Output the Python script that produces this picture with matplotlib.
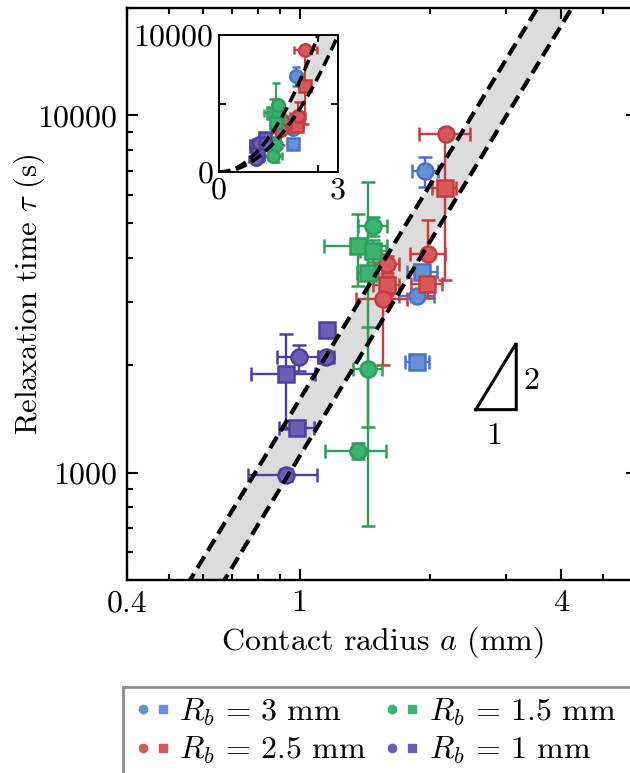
import numpy as np
import matplotlib
matplotlib.use("Agg")
import matplotlib.pyplot as plt
from matplotlib.ticker import FixedLocator, NullFormatter, FixedFormatter
from matplotlib.lines import Line2D
from matplotlib.patches import Rectangle
from matplotlib.legend_handler import HandlerTuple

plt.rcParams['font.family'] = ['cmr10', 'DejaVu Serif']
plt.rcParams['mathtext.fontset'] = 'cm'
plt.rcParams['axes.formatter.use_mathtext'] = True

# ---------------- data ----------------
series_labels = [r'$R_b\,=\,3$ mm', r'$R_b\,=\,2.5$ mm', r'$R_b\,=\,1.5$ mm', r'$R_b\,=\,1$ mm']

# R_b = 3 mm (blue)
blue_circ_a = [1.95, 1.87]
blue_circ_tau = [6980, 3120]
blue_circ_aerr = [0.135, 0.17]
blue_circ_terr = [690, 100]
blue_sq_a = [1.92, 1.87]
blue_sq_tau = [3650, 2040]
blue_sq_aerr = [0.15, 0.12]
blue_sq_terr = [150, 80]

# R_b = 2.5 mm (red)
red_circ_a = [2.18, 1.98, 1.59, 1.56]
red_circ_tau = [8880, 4090, 3830, 3055]
red_circ_aerr = [0.29, 0.18, 0.11, 0.21]
red_circ_terr = [300, 1000, 200, 1050]
red_sq_a = [2.16, 1.97, 1.59]
red_sq_tau = [6250, 3370, 3350]
red_sq_aerr = [0.14, 0.16, 0.11]
red_sq_terr = [2780, 150, 200]

# R_b = 1.5 mm (green)
green_circ_a = [1.48, 1.44, 1.366]
green_circ_tau = [4910, 1950, 1150]
green_circ_aerr = [0.115, 0.11, 0.22]
green_circ_terr = [300, 610, 60]
green_sq_a = [1.366, 1.48, 1.44]
green_sq_tau = [4320, 4180, 3610]
green_sq_aerr = [0.226, 0.10, 0.08]
green_sq_terr = [990, 300, 2900]

# R_b = 1 mm (purple)
purple_circ_a = [0.996, 1.152, 0.929]
purple_circ_tau = [2100, 2100, 985]
purple_circ_aerr = [0.107, 0.05, 0.17]
purple_circ_terr = [170, 80, 40]
purple_sq_a = [1.157, 0.929, 0.988]
purple_sq_tau = [2500, 1884, 1333]
purple_sq_aerr = [0.0, 0.155, 0.09]
purple_sq_terr = [0, 556, 60]

# tau = c * a^2 band (s / mm^2)
c_upper = 1600
c_lower = 1110

x_major = [0.4, 1, 4]
x_major_labels = ['0.4', '1', '4']
y_major = [1000, 10000]
y_major_labels = ['1000', '10000']

# ---------------- style ----------------
face = ['#6390d8', '#d9585a', '#3cb371', '#6a5fb4']
edge = ['#4a73c8', '#c83c3c', '#2e9e5b', '#4e3f9e']

groups = [
    (blue_circ_a, blue_circ_tau, blue_circ_aerr, blue_circ_terr,
     blue_sq_a, blue_sq_tau, blue_sq_aerr, blue_sq_terr),
    (red_circ_a, red_circ_tau, red_circ_aerr, red_circ_terr,
     red_sq_a, red_sq_tau, red_sq_aerr, red_sq_terr),
    (green_circ_a, green_circ_tau, green_circ_aerr, green_circ_terr,
     green_sq_a, green_sq_tau, green_sq_aerr, green_sq_terr),
    (purple_circ_a, purple_circ_tau, purple_circ_aerr, purple_circ_terr,
     purple_sq_a, purple_sq_tau, purple_sq_aerr, purple_sq_terr),
]

W, H = 630, 773
fig = plt.figure(figsize=(W / 100, H / 100), dpi=100)
ax = fig.add_axes([127 / W, (H - 580) / H, 510 / W, 572 / H])

FS = 23


def draw(axis, ms, elw, cap):
    for k, g in enumerate(groups):
        ca, ct, cae, cte, sa, st, sae, ste = g
        for (xa, yt, xe, ye, mk) in [(sa, st, sae, ste, 's'), (ca, ct, cae, cte, 'o')]:
            axis.errorbar(xa, yt, xerr=xe, yerr=ye, fmt=mk, ms=ms,
                          mfc=face[k], mec=edge[k], mew=1.8, ecolor=edge[k],
                          elinewidth=elw, capsize=cap, capthick=elw, zorder=3)


def band(axis, a, lw):
    axis.fill_between(a, c_lower * a ** 2, c_upper * a ** 2, color='#dcdcdc', lw=0, zorder=1)
    for c in (c_upper, c_lower):
        ln, = axis.plot(a, c * a ** 2, color='black', lw=lw, zorder=4)
        ln.set_dashes([3.2, 1.6])


# main axes
a_line = np.logspace(np.log10(0.3), np.log10(7), 200)
band(ax, a_line, 3.0)
draw(ax, 11.5, 1.7, 5)

ax.set_xscale('log')
ax.set_yscale('log')
ax.set_xlim(0.4, 6)
ax.set_ylim(500, 20000)
ax.xaxis.set_major_locator(FixedLocator(x_major))
ax.xaxis.set_major_formatter(FixedFormatter(x_major_labels))
ax.xaxis.set_minor_locator(FixedLocator([0.5, 0.6, 0.7, 0.8, 0.9, 2, 3, 5, 6]))
ax.xaxis.set_minor_formatter(NullFormatter())
ax.yaxis.set_major_locator(FixedLocator(y_major))
ax.yaxis.set_major_formatter(FixedFormatter(y_major_labels))
ax.yaxis.set_minor_locator(FixedLocator([500, 600, 700, 800, 900] + list(range(2000, 10000, 1000))))
ax.yaxis.set_minor_formatter(NullFormatter())
ax.tick_params(which='both', direction='in', top=True, right=True, labelsize=FS, width=1.5)
ax.tick_params(which='major', length=8, pad=7)
ax.tick_params(which='minor', length=4.5)
for s in ax.spines.values():
    s.set_linewidth(1.7)
ax.set_xlabel(r'Contact radius $a$ (mm)', fontsize=FS, labelpad=5)
ax.set_ylabel(r'Relaxation time $\tau$ (s)', fontsize=22)
ax.yaxis.set_label_coords((47 - 127) / 510, 0.5)

# slope triangle
tx0, tx1, ty0 = 2.55, 3.16, 1500
ty1 = ty0 * (tx1 / tx0) ** 2
ax.plot([tx0, tx1, tx1, tx0], [ty0, ty0, ty1, ty0], color='black', lw=2.2, zorder=5,
        solid_joinstyle='miter')
ax.text(tx1 * 1.04, np.sqrt(ty0 * ty1) * 0.97, '2', fontsize=FS, ha='left', va='center')
ax.text(np.sqrt(tx0 * tx1) * 0.99, ty0 * 0.92, '1', fontsize=FS, ha='center', va='top')

# inset
ins = fig.add_axes([219 / W, (H - 172) / H, 119 / W, 137 / H])
a_lin = np.linspace(0, 3.2, 200)
band(ins, a_lin, 2.6)
draw(ins, 9, 1.4, 3.2)
ins.set_xlim(0, 3)
ins.set_ylim(0, 10000)
ins.set_xticks([0, 2.5, 3])
ins.set_xticklabels(['0', '', '3'])
ins.set_yticks([0, 5000, 10000])
ins.set_yticklabels(['0', '', '10000'])
ins.tick_params(direction='in', top=True, right=True, labelsize=FS, length=5, width=1.3, pad=4)
for s in ins.spines.values():
    s.set_linewidth(1.4)

# legend (frame drawn as a figure rectangle running past the right/bottom edges)
fig.patches.append(Rectangle((123 / W, -0.02), (W + 20 - 123) / W, (H - 687) / H + 0.02,
                             transform=fig.transFigure, fill=False, edgecolor='#8c8c8c',
                             lw=2.0, zorder=0))
handles = []
for k in range(4):
    hc = Line2D([], [], ls='none', marker='o', ms=6, mfc=face[k], mec=face[k])
    hs = Line2D([], [], ls='none', marker='s', ms=6, mfc=face[k], mec=face[k])
    handles.append((hc, hs))
leg = fig.legend(handles, series_labels,
                 handler_map={tuple: HandlerTuple(ndivide=None, pad=0.0)},
                 loc='upper left', bbox_to_anchor=(123 / W, 1 - 687 / H), ncol=2,
                 fontsize=FS, frameon=False, handlelength=1.25, handletextpad=0.2,
                 columnspacing=0.5, labelspacing=0.22, borderpad=0.3, borderaxespad=0)

fig.savefig('out.png', dpi=100)
